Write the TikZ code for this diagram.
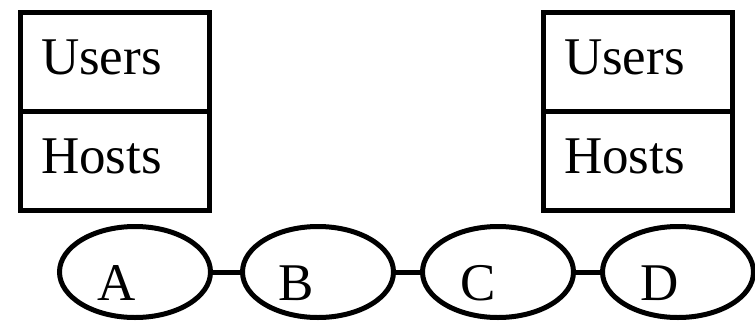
\documentclass[tikz,border=0pt]{standalone}
\usepackage{fontspec}
\setmainfont{Liberation Serif}
\usetikzlibrary{shapes.geometric}

\tikzset{
  cell/.style={draw, line width=5pt, outer sep=0pt, minimum width=189pt, minimum height=99pt,
    text width=147pt, inner xsep=21pt, align=left, text height=36pt, text depth=10pt,
    font=\fontsize{53}{60}\selectfont},
  site/.style={draw, ellipse, line width=5pt, minimum width=151pt, minimum height=91pt, inner sep=0pt},
  sitename/.style={anchor=base, inner sep=0pt, font=\fontsize{53}{60}\selectfont},
  link/.style={line width=5pt}
}

\begin{document}
\begin{tikzpicture}[x=1pt, y=-1pt]
        \useasboundingbox (0,0) rectangle (755,322);

        % left and right stacks
        \node[cell, anchor=north west] (usersl) at (20,12) {Users};
        \node[cell, anchor=north] (hostsl) at (usersl.south) {Hosts};
        \node[cell, anchor=north west] (usersr) at (543,12) {Users};
        \node[cell, anchor=north] (hostsr) at (usersr.south) {Hosts};

        % sites
        \node[site] (a) at (135,272) {};
        \node[site] (b) at (318,272) {};
        \node[site] (c) at (498,272) {};
        \node[site] (d) at (678,272) {};

        \node[sitename] (na) at (117,300) {A};
        \node[sitename] (nb) at (296,300) {B};
        \node[sitename] (nc) at (478,300) {C};
        \node[sitename] (nd) at (660,300) {D};

        \draw[link] (a) -- (b);
        \draw[link] (b) -- (c);
        \draw[link] (c) -- (d);
    \end{tikzpicture}
\end{document}
